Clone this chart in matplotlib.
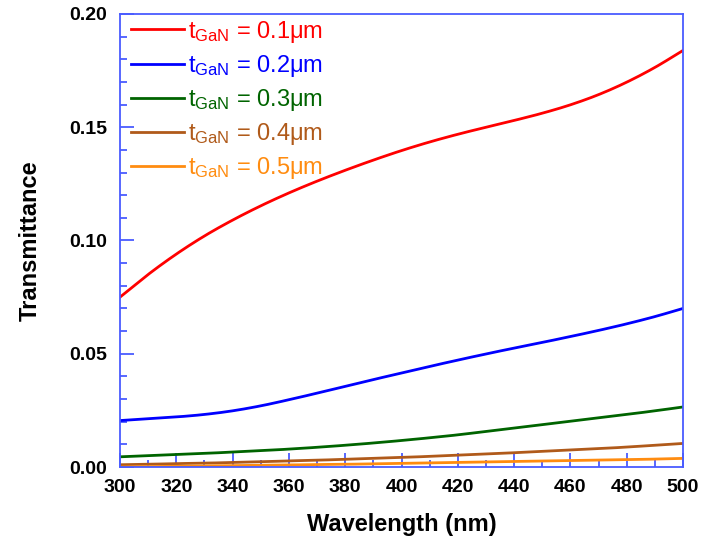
import numpy as np
import matplotlib
matplotlib.use("Agg")
import matplotlib.pyplot as plt
from matplotlib.ticker import MultipleLocator, FormatStrFormatter

plt.rcParams['font.family'] = ['Liberation Sans', 'DejaVu Sans']
plt.rcParams['mathtext.fontset'] = 'custom'
plt.rcParams['mathtext.rm'] = 'Liberation Sans'
plt.rcParams['mathtext.it'] = 'Liberation Sans:italic'

wavelength = [300, 310, 320, 330, 340, 350, 360, 370, 380, 390, 400,
              410, 420, 430, 440, 450, 460, 470, 480, 490, 500]
t01 = [0.0750, 0.0850, 0.0940, 0.1020, 0.1090, 0.1153, 0.1210, 0.1262, 0.1310, 0.1355, 0.1397,
       0.1435, 0.1469, 0.1500, 0.1530, 0.1562, 0.1599, 0.1644, 0.1699, 0.1764, 0.1839]
t02 = [0.0205, 0.0213, 0.0221, 0.0232, 0.0248, 0.0270, 0.0297, 0.0326, 0.0356, 0.0386, 0.0415,
       0.0444, 0.0472, 0.0499, 0.0525, 0.0550, 0.0576, 0.0603, 0.0632, 0.0664, 0.0700]
t03 = [0.0045, 0.0050, 0.0055, 0.0060, 0.0066, 0.0072, 0.0079, 0.0087, 0.0096, 0.0106, 0.0117,
       0.0129, 0.0142, 0.0157, 0.0172, 0.0187, 0.0202, 0.0217, 0.0232, 0.0248, 0.0265]
t04 = [0.0010, 0.0012, 0.0015, 0.0017, 0.0020, 0.0023, 0.0027, 0.0030, 0.0034, 0.0038, 0.0042,
       0.0047, 0.0052, 0.0057, 0.0063, 0.0069, 0.0075, 0.0081, 0.0088, 0.0096, 0.0104]
t05 = [0.0000, 0.0002, 0.0003, 0.0005, 0.0006, 0.0008, 0.0009, 0.0011, 0.0012, 0.0014, 0.0016,
       0.0018, 0.0020, 0.0022, 0.0024, 0.0026, 0.0028, 0.0030, 0.0032, 0.0035, 0.0038]
series = [t01, t02, t03, t04, t05]
thickness = ['0.1', '0.2', '0.3', '0.4', '0.5']
colors = ['#ff0000', '#0000ff', '#006400', '#b05a1a', '#ff8c10']


def smooth_curve(xv, yv, n=20):
    """Draw a smooth Catmull-Rom curve through the measured points."""
    xv = np.asarray(xv, float)
    yv = np.asarray(yv, float)
    px = np.concatenate([[2*xv[0]-xv[1]], xv, [2*xv[-1]-xv[-2]]])
    py = np.concatenate([[2*yv[0]-yv[1]], yv, [2*yv[-1]-yv[-2]]])
    ox, oy = [], []
    t = np.linspace(0, 1, n, endpoint=False)
    for i in range(1, len(px)-2):
        for arr, out in ((px, ox), (py, oy)):
            p0, p1, p2, p3 = arr[i-1], arr[i], arr[i+1], arr[i+2]
            out.extend(0.5*((2*p1) + (-p0+p2)*t + (2*p0-5*p1+4*p2-p3)*t**2
                            + (-p0+3*p1-3*p2+p3)*t**3))
    ox.append(xv[-1]); oy.append(yv[-1])
    return np.array(ox), np.array(oy)


fig = plt.figure(figsize=(7.23, 5.44), dpi=100)
ax = fig.add_axes([120/723, 1-467/544, 563/723, 453/544])

for ys, c, t in zip(series, colors, thickness):
    sx, sy = smooth_curve(wavelength, ys)
    ax.plot(sx, sy, color=c, lw=2.0, solid_joinstyle='round',
            label=r'$\mathrm{t_{GaN}}$ = ' + t + 'μm')

ax.set_xlim(300, 500)
ax.set_ylim(0, 0.2)
ax.xaxis.set_major_locator(MultipleLocator(20))
ax.xaxis.set_minor_locator(MultipleLocator(10))
ax.yaxis.set_major_locator(MultipleLocator(0.05))
ax.yaxis.set_minor_locator(MultipleLocator(0.01))
ax.yaxis.set_major_formatter(FormatStrFormatter('%.2f'))

spc = '#4a5cff'
for s in ax.spines.values():
    s.set_color(spc)
    s.set_linewidth(1.3)
ax.tick_params(which='both', direction='in', colors=spc, labelcolor='black',
               top=False, right=False)
ax.tick_params(which='major', length=10, width=1.3, labelsize=14, pad=9)
ax.tick_params(which='minor', length=5, width=1.3)
for lab in ax.get_xticklabels() + ax.get_yticklabels():
    lab.set_fontweight('bold')

ax.set_xlabel('Wavelength (nm)', fontsize=17, fontweight='bold', labelpad=12)
ax.set_ylabel('Transmittance', fontsize=17, fontweight='bold', labelpad=20)

leg = ax.legend(loc='upper left', bbox_to_anchor=(0.011, 1.0), frameon=False,
                fontsize=17, handlelength=2.25, handletextpad=0.18,
                labelspacing=0.345, borderaxespad=0.0, borderpad=0.2,
                labelcolor='linecolor')

fig.savefig('out.png', dpi=100)
